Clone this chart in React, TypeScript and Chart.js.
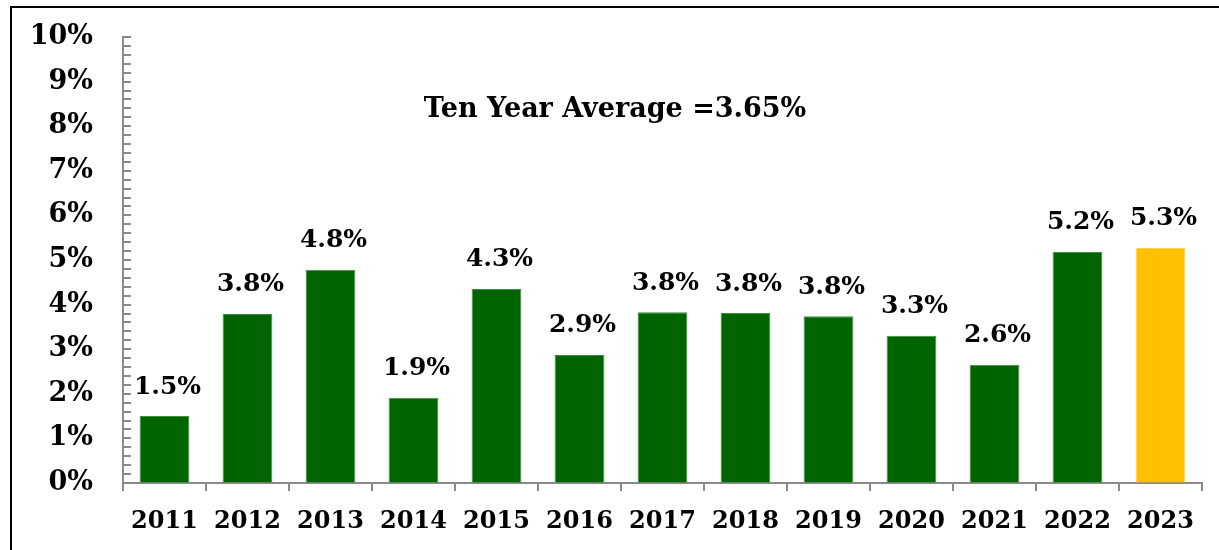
import React, { useEffect, useRef } from "react";
import { Chart, registerables } from "chart.js";

Chart.register(...registerables);

const years = ["2011", "2012", "2013", "2014", "2015", "2016", "2017", "2018", "2019", "2020", "2021", "2022", "2023"];
const growth = [1.5, 3.79, 4.78, 1.91, 4.35, 2.87, 3.83, 3.81, 3.74, 3.3, 2.65, 5.18, 5.27];
const growthLabels = ["1.5%", "3.8%", "4.8%", "1.9%", "4.3%", "2.9%", "3.8%", "3.8%", "3.8%", "3.3%", "2.6%", "5.2%", "5.3%"];
const barColors = ["#006400", "#006400", "#006400", "#006400", "#006400", "#006400", "#006400", "#006400", "#006400", "#006400", "#006400", "#006400", "#FFC000"];
const titleText = "Ten Year Average =3.65%";

const FONT = "'DejaVu Serif', serif";
const AXIS_GRAY = "#8a8a8a";

const minorTicks = {
  id: "minorTicks",
  afterDraw(chart: any) {
    const y = chart.scales.y;
    const ctx = chart.ctx;
    const x0 = chart.chartArea.left;
    ctx.save();
    ctx.strokeStyle = AXIS_GRAY;
    ctx.lineWidth = 2;
    for (let i = 1; i <= 50; i++) {
      const py = Math.round(y.getPixelForValue(i * 0.2));
      ctx.beginPath();
      ctx.moveTo(x0, py);
      ctx.lineTo(x0 + 8, py);
      ctx.stroke();
    }
    ctx.restore();
  },
};

const valueLabels = {
  id: "valueLabels",
  afterDatasetsDraw(chart: any) {
    const ctx = chart.ctx;
    const meta = chart.getDatasetMeta(0);
    ctx.save();
    ctx.font = `bold 25px ${FONT}`;
    ctx.fillStyle = "#000";
    ctx.textAlign = "center";
    ctx.textBaseline = "middle";
    meta.data.forEach((bar: any, i: number) => {
      ctx.fillText(growthLabels[i], bar.x + 3, bar.y - 29);
    });
    ctx.restore();
  },
};

const avgTitle = {
  id: "avgTitle",
  afterDraw(chart: any) {
    const ctx = chart.ctx;
    ctx.save();
    ctx.font = `bold 27px ${FONT}`;
    ctx.fillStyle = "#000";
    ctx.textAlign = "center";
    ctx.textBaseline = "middle";
    ctx.fillText(titleText, 615, 110);
    ctx.restore();
  },
};

export default function App() {
  const ref = useRef<HTMLCanvasElement>(null);

  useEffect(() => {
    if (!ref.current) return;
    const chart = new Chart(ref.current, {
      type: "bar",
      data: {
        labels: years,
        datasets: [
          {
            data: growth,
            backgroundColor: barColors,
            borderColor: barColors.map((c) => (c === "#FFC000" ? "#ffd24d" : "#3f8f3f")),
            borderWidth: 1,
            categoryPercentage: 1,
            barPercentage: 0.6,
          },
        ],
      },
      options: {
        animation: false,
        responsive: false,
        maintainAspectRatio: false,
        layout: { padding: { top: 37, right: 17, left: 0, bottom: 0 } },
        plugins: {
          legend: { display: false },
          tooltip: { enabled: false },
          title: { display: false },
        },
        scales: {
          x: {
            offset: true,
            grid: {
              offset: true,
              drawOnChartArea: false,
              drawTicks: true,
              tickLength: 8,
              color: AXIS_GRAY,
              lineWidth: 2,
            },
            border: { display: true, color: AXIS_GRAY, width: 2 },
            ticks: {
              color: "#000",
              font: { family: FONT, size: 24, weight: "bold" },
              padding: 16,
              maxRotation: 0,
              autoSkip: false,
            },
            afterFit(scale: any) {
              scale.height = 67;
            },
          },
          y: {
            min: 0,
            max: 10,
            grid: {
              drawOnChartArea: false,
              drawTicks: true,
              tickLength: 30,
              tickColor: "rgba(0,0,0,0)",
            },
            border: { display: true, color: AXIS_GRAY, width: 2 },
            ticks: {
              stepSize: 1,
              color: "#000",
              padding: 0,
              font: { family: FONT, size: 27, weight: "bold" },
              callback: (v: any) => `${v}%`,
            },
            afterFit(scale: any) {
              scale.width = 123;
            },
          },
        },
      },
      plugins: [minorTicks, valueLabels, avgTitle],
    });
    return () => chart.destroy();
  }, []);

  return (
    <div style={{ position: "fixed", left: 0, top: 0, width: 1219, height: 550, background: "#fff" }}>
      <div
        style={{
          position: "absolute",
          left: 10,
          top: 6,
          width: 1220,
          height: 560,
          borderTop: "2px solid #000",
          borderLeft: "2px solid #000",
        }}
      />
      <canvas ref={ref} width={1219} height={550} style={{ position: "absolute", left: 0, top: 0 }} />
    </div>
  );
}
